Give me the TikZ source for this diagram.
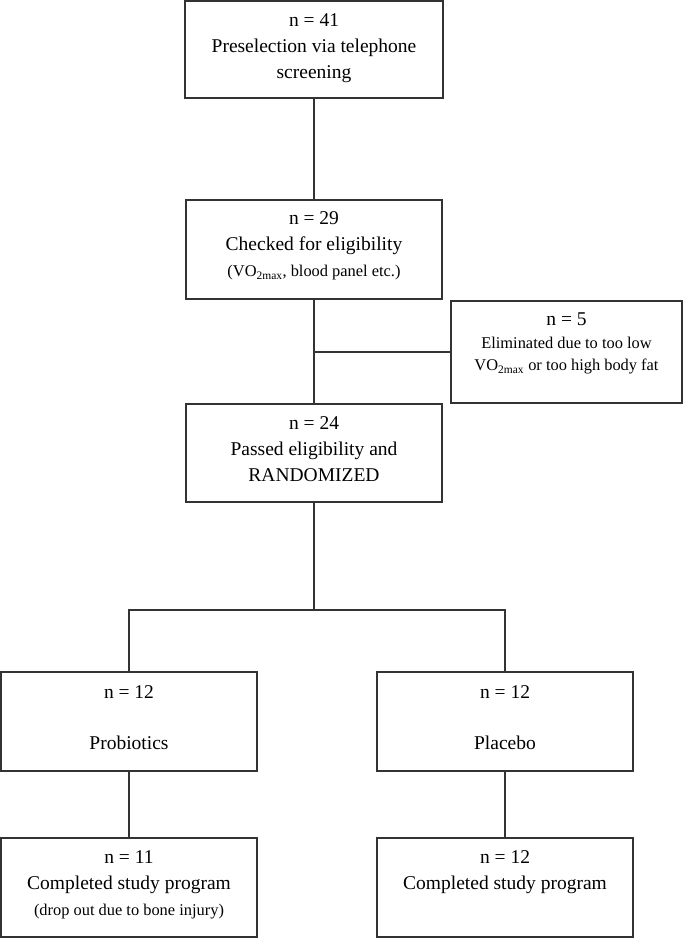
\documentclass[tikz,border=0pt]{standalone}
\usepackage{fontspec}
\setmainfont{Liberation Serif}
\newcommand{\smallfnt}{\fontsize{16.4}{22}\selectfont}
\newcommand{\mainfnt}{\fontsize{19.5}{26}\selectfont}
\begin{document}
\begin{tikzpicture}[x=1pt,y=-1pt,
  box/.style={draw=black!80, line width=1.2pt, align=center, inner sep=0pt,
    minimum width=256pt, minimum height=99pt, font=\mainfnt},
  sidebox/.style={box, font=\smallfnt},
  conn/.style={draw=black!80, line width=1.2pt}]
\useasboundingbox (0,0) rectangle (685,938);
\node[box, minimum width=258pt, minimum height=97pt, text depth=7pt] (b1) at (314,49.5)
  {n = 41\\Preselection via telephone\\screening};
\node[box, text depth=11pt] (b2) at (314,249.5)
  {n = 29\\Checked for eligibility\\{\smallfnt (VO\textsubscript{2max}, blood panel etc.)}};
\node[sidebox, minimum width=231pt, minimum height=102pt, text depth=20pt] (s) at (566.5,352)
  {{\mainfnt n = 5}\\[1pt]Eliminated due to too low\\VO\textsubscript{2max} or too high body fat};
\node[box, minimum height=98pt, text depth=8pt] (b3) at (314,453)
  {n = 24\\Passed eligibility and\\RANDOMIZED};
\node[box, text depth=8pt] (b4) at (129,721.5)
  {n = 12\\[25pt]Probiotics};
\node[box, text depth=8pt] (b5) at (505,721.5)
  {n = 12\\[25pt]Placebo};
\node[box, text depth=9pt] (b6) at (129,887.5)
  {n = 11\\Completed study program\\{\smallfnt (drop out due to bone injury)}};
\node[box, text depth=35pt] (b7) at (505,887.5)
  {n = 12\\Completed study program};
\coordinate (br) at (314,610);
\draw[conn] (b1.south) -- (b2.north);
\draw[conn] (b2.south) -- (b3.north);
\draw[conn] (s.west) -- (s.west -| b2.south);
\draw[conn] (b3.south) -- (br);
\draw[conn] (b4.north) |- (br) -| (b5.north);
\draw[conn] (b4.south) -- (b6.north);
\draw[conn] (b5.south) -- (b7.north);
\end{tikzpicture}
\end{document}
